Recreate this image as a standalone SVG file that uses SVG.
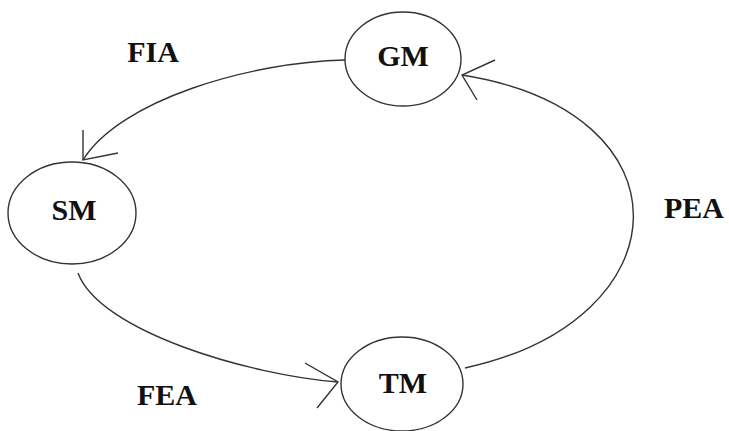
<svg xmlns="http://www.w3.org/2000/svg" width="729" height="431" viewBox="0 0 729 431">
<style>
.n{fill:#fff;stroke:#333;stroke-width:1.4}
.e{fill:none;stroke:#333;stroke-width:1.4}
.t{font-family:"Liberation Serif",serif;font-weight:bold;font-size:30px;fill:#111;text-anchor:middle}
</style>
<rect width="729" height="431" fill="#fff"/>
<g id="connectors">
<path class="e" d="M345,60 C250,62 120,100 83,160"/>
<path class="e" d="M83,130 L83,160 L118,153"/>
<path class="e" d="M465,368 C685,320 695,112 462,75"/>
<path class="e" d="M495,60 L462,75 L477,100"/>
<path class="e" d="M78,273 C100,332 250,375 338,382"/>
<path class="e" d="M305,363 L338,382 L317,408"/>
</g>
<g id="GM"><ellipse class="n" cx="403" cy="59" rx="58" ry="47"/><text class="t" x="403" y="66">GM</text></g>
<g id="SM"><ellipse class="n" cx="72" cy="213" rx="64" ry="51"/><text class="t" x="74" y="220">SM</text></g>
<g id="TM"><ellipse class="n" cx="402" cy="384" rx="61" ry="47"/><text class="t" x="403" y="393">TM</text></g>
<text class="t" x="153" y="62">FIA</text>
<text class="t" x="694" y="218">PEA</text>
<text class="t" x="167" y="405">FEA</text>
</svg>
